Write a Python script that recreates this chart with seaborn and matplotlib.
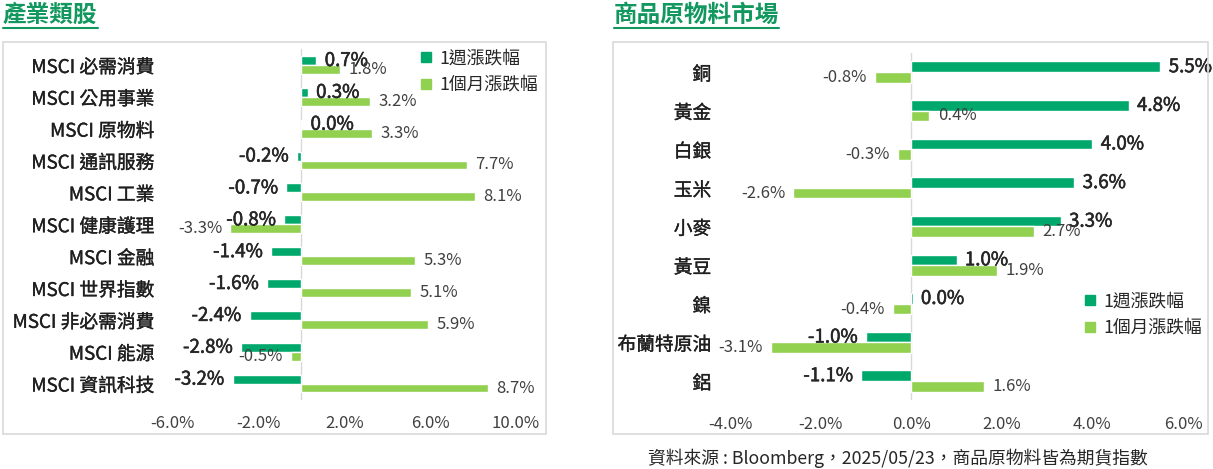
import numpy as np
import pandas as pd
import matplotlib
matplotlib.use("Agg")
import matplotlib.pyplot as plt
import matplotlib.patheffects as pe
from matplotlib.patches import Rectangle
from matplotlib.lines import Line2D
import seaborn as sns

# 產業類股
sector_names = ["MSCI 必需消費", "MSCI 公用事業", "MSCI 原物料", "MSCI 通訊服務", "MSCI 工業",
                "MSCI 健康護理", "MSCI 金融", "MSCI 世界指數", "MSCI 非必需消費", "MSCI 能源",
                "MSCI 資訊科技"]
sector_week = [0.7, 0.3, 0.04, -0.2, -0.7, -0.8, -1.4, -1.6, -2.4, -2.8, -3.2]
sector_month = [1.8, 3.2, 3.3, 7.7, 8.1, -3.3, 5.3, 5.1, 5.9, -0.5, 8.7]
sector_ticks = [-6, -2, 2, 6, 10]

# 商品原物料市場
commodity_names = ["銅", "黃金", "白銀", "玉米", "小麥", "黃豆", "鎳", "布蘭特原油", "鋁"]
commodity_week = [5.5, 4.8, 4.0, 3.6, 3.3, 1.0, 0.03, -1.0, -1.1]
commodity_month = [-0.8, 0.4, -0.3, -2.6, 2.7, 1.9, -0.4, -3.1, 1.6]
commodity_ticks = [-4, -2, 0, 2, 4, 6]

series_names = ["1週漲跌幅", "1個月漲跌幅"]
colors = ["#00A86B", "#92D050"]
title_green = "#12985F"

W, H = 1213, 469

sns.set_theme(style="white")
plt.rcParams["font.family"] = ["Noto Sans CJK TC", "DejaVu Sans"]


def px_axes(fig, x0, x1, y0, y1):
    return fig.add_axes([x0 / W, 1 - y1 / H, (x1 - x0) / W, (y1 - y0) / H])


def long_table(names, week, month):
    return pd.DataFrame({
        "name": names * 2,
        "value": week + month,
        "series": [series_names[0]] * len(names) + [series_names[1]] * len(names),
    })


def thicken(color, lw):
    return [pe.withStroke(linewidth=lw, foreground=color)]


def draw_panel(ax, names, week, month, xlim, ticks, width, label_pad):
    df = long_table(names, week, month)
    sns.barplot(data=df, y="name", x="value", hue="series", orient="h",
                palette=colors, width=width, saturation=1, legend=False, ax=ax)
    ax.set_xlim(*xlim)
    ax.set_ylim(len(names) - 0.5, -0.5)
    ax.axvline(0, color="#D9D9D9", lw=1, zorder=0)
    ax.set_xticks(ticks)
    ax.set_xticklabels([f"{t:.1f}%" for t in ticks])
    ax.tick_params(axis="x", length=0, pad=11, labelsize=12, labelcolor="#404040")
    ax.tick_params(axis="y", length=0, pad=label_pad, labelsize=13.5, labelcolor="#1F1F1F")
    for lab in ax.get_yticklabels():
        lab.set_path_effects(thicken("#1F1F1F", 0.25))
    ax.set_xlabel("")
    ax.set_ylabel("")
    sns.despine(ax=ax, left=True, bottom=True)
    ax.grid(False)
    wk = ax.bar_label(ax.containers[0], labels=[f"{v:.1f}%" for v in week], padding=6,
                      fontsize=13.5, color="#262626")
    for t in wk:
        t.set_path_effects(thicken("#262626", 0.4))
    ax.bar_label(ax.containers[1], labels=[f"{v:.1f}%" for v in month], padding=6,
                 fontsize=12, color="#404040")


def add_legend(ax, x, y):
    handles = [Line2D([], [], marker="s", ls="", color=c, markersize=7) for c in colors]
    ax.legend(handles, series_names, loc="upper left", bbox_to_anchor=(x / W, 1 - y / H),
              bbox_transform=ax.figure.transFigure, frameon=False, handlelength=0.7,
              handletextpad=0.4, labelspacing=0.5, borderpad=0, borderaxespad=0,
              fontsize=12.8, labelcolor="#262626")


fig = plt.figure(figsize=(W / 100, H / 100), dpi=100)

# panel frames
for x0, x1 in [(3, 546), (613, 1208)]:
    fig.add_artist(Rectangle((x0 / W, 1 - 434 / H), (x1 - x0) / W, (434 - 42.5) / H,
                             transform=fig.transFigure, fill=False, ec="#D9D9D9", lw=1.2))

ax1 = px_axes(fig, 172.5, 516, 49, 399.5)
draw_panel(ax1, sector_names, sector_week, sector_month, (-6, 10), sector_ticks, 0.56, 13)
add_legend(ax1, 420, 49)

ax2 = px_axes(fig, 730, 1183, 52.7, 400.3)
draw_panel(ax2, commodity_names, commodity_week, commodity_month, (-4, 6), commodity_ticks, 0.55, 13.5)
add_legend(ax2, 1084, 292)

# titles with underline
titles = []
for x, txt in [(3, "產業類股"), (613.5, "商品原物料市場")]:
    titles.append(fig.text(x / W, 1 - 14.5 / H, txt, ha="left", va="center", fontsize=17,
                           fontweight="bold", color=title_green))

fig.text(898 / W, 1 - 458 / H, "資料來源 : Bloomberg，2025/05/23，商品原物料皆為期貨指數",
         ha="center", va="center", fontsize=12.8, color="#262626")

fig.canvas.draw()
renderer = fig.canvas.get_renderer()
for t in titles:
    bb = t.get_window_extent(renderer)
    fig.add_artist(Line2D([bb.x0 / W, bb.x1 / W], [1 - 27.7 / H, 1 - 27.7 / H],
                          transform=fig.transFigure, color=title_green, lw=1.5))

fig.savefig("out.png", dpi=100)
